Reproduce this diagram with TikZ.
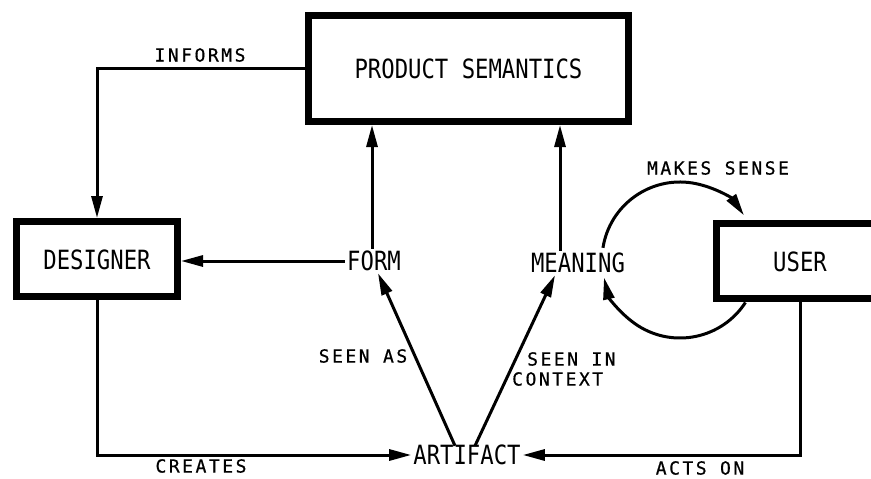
\documentclass[tikz,border=0pt]{standalone}
\usepackage{fontspec}
\usetikzlibrary{arrows.meta}
\newfontfamily\mainfnt[FakeStretch=0.84]{DejaVu Sans Mono}
\newfontfamily\smallfnt[LetterSpace=14,FakeBold=0.6]{DejaVu Sans Mono}
\begin{document}
\begin{tikzpicture}[x=1pt,y=-1pt,
  boxnode/.style={draw,line width=7pt,inner sep=0pt,font=\mainfnt\fontsize{26.5}{28}\selectfont},
  word/.style={inner sep=2pt,font=\mainfnt\fontsize{26.5}{28}\selectfont},
  lbl/.style={inner sep=0pt,font=\smallfnt\fontsize{18}{20}\selectfont},
  arr/.style={line width=3pt,-{Triangle[length=22pt,width=11pt]}},
  line join=miter]
\useasboundingbox (0,0) rectangle (871,479);
\begin{scope}
\clip (0,0) rectangle (871,479);
\node[boxnode,minimum width=320pt,minimum height=106pt] (ps) at (468.5,68.5) {PRODUCT SEMANTICS};
\node[boxnode,minimum width=161pt,minimum height=75pt,text height=22pt] (des) at (97,259) {DESIGNER};
\node[boxnode,minimum width=168pt,minimum height=75pt,text height=22pt] (user) at (800,261) {USER};
\end{scope}
\node[word] (form) at (374,261) {FORM};
\node[word] (mean) at (578,263) {MEANING};
\node[word] (art) at (467,455) {ARTIFACT};
\coordinate (c) at (680,260);

\node[lbl] (informs) at (200,55) {INFORMS};
\node[lbl] (creates) at (201,466) {CREATES};
\node[lbl] (actson) at (700,468) {ACTS ON};
\node[lbl] (seenas) at (363,356) {SEEN AS};
\node[lbl,anchor=west,align=left] (context) at (512,369) {\hspace*{15pt}SEEN IN\\CONTEXT};
\node[lbl] (makes) at (718,168) {MAKES SENSE};

\draw[arr] (ps.west) -| (des.north);
\draw[arr] (form.west) -- (form.west -| des.east);
\draw[arr] ([xshift=-2pt]form.north) -- ([xshift=-2pt]form.north |- ps.south);
\draw[arr] ([xshift=-18pt]mean.north) -- ([xshift=-18pt]mean.north |- ps.south);
\draw[arr] ([xshift=-12pt,yshift=-3pt]art.north) -- ([xshift=4pt]form.south);
\draw[arr] ([xshift=8pt,yshift=-3pt]art.north) -- ([xshift=-23pt]mean.south);
\draw[arr] (des.south) |- (art.west);
\draw[arr] (user.south) |- (art.east);
\draw[arr] ([shift={(171:78pt)}]c) arc[start angle=171,end angle=35,radius=78pt];
\draw[arr] ([shift={(-33:78pt)}]c) arc[start angle=-33,end angle=-167,radius=78pt];
\end{tikzpicture}
\end{document}
